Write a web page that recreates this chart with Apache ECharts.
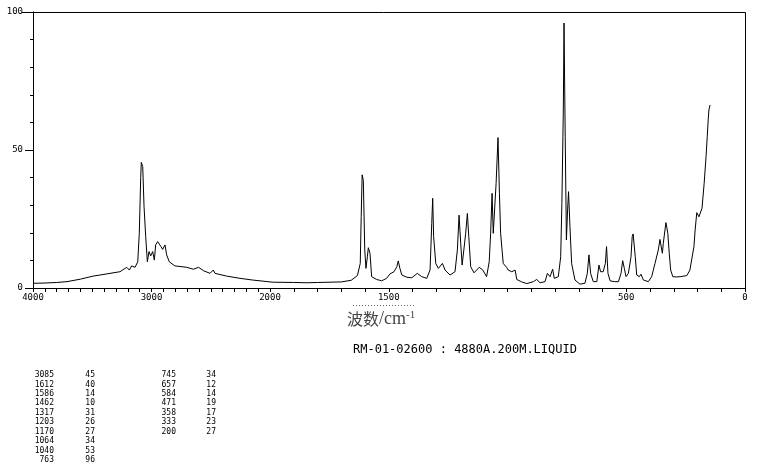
<!DOCTYPE html>
<html>
<head>
<meta charset="utf-8">
<script src="https://cdn.jsdelivr.net/npm/echarts@6/dist/echarts.min.js"></script>
<style>
html,body{margin:0;padding:0;background:#fff;}
#c{width:761px;height:468px;}
</style>
</head>
<body>
<div id="c"></div>
<script>
// Raman spectrum: wavenumber (cm-1) and relative intensity
const wavenumber = [
  4000, 3900, 3800, 3713, 3600, 3494, 3435, 3350, 3266, 3209, 3187, 3167, 3139, 3116, 3103,
  3091, 3086, 3074, 3063, 3049, 3035, 3021, 3007, 2990, 2976, 2965, 2948, 2934, 2920, 2906,
  2886, 2872, 2850, 2802, 2703, 2647, 2602, 2563, 2506, 2479, 2464, 2365, 2253, 2150, 2084,
  2000,
  1986, 1900, 1845, 1800, 1700, 1658, 1632, 1620, 1616, 1612, 1607, 1601, 1596, 1590, 1586,
  1579, 1572, 1551, 1530, 1509, 1495, 1478, 1466, 1460, 1453, 1445, 1424, 1403, 1380, 1361,
  1340, 1326, 1319, 1315, 1311, 1302, 1291, 1274, 1263, 1242, 1221, 1211, 1204, 1197, 1191,
  1183, 1176, 1169, 1163, 1155, 1141, 1119, 1104, 1088, 1077, 1071, 1065, 1060, 1056, 1048,
  1040, 1034, 1029, 1018, 1004, 997, 982, 976, 968, 961, 940, 919, 891, 884, 877, 863, 842,
  832, 821, 810, 803, 786, 776, 771, 765, 762, 757, 752, 747, 743, 737, 730, 716, 695, 674,
  664, 657, 650, 639, 624, 615, 608, 597, 588, 583, 577, 568, 550, 533, 522, 515, 508, 501,
  491, 480, 475, 471, 462, 456, 445, 438, 428, 407, 393, 379, 365, 358, 352, 348, 344, 337,
  333, 325, 319, 313, 304, 290, 273, 245, 232, 224, 215, 210, 203, 200, 194, 187, 181, 172,
  164, 159, 155, 152, 147
];
const intensity = [
  1.7, 1.8, 2.0, 2.3, 3.2, 4.3, 4.7, 5.3, 5.9, 7.5, 6.5, 8.0, 7.5, 9.5, 19.8,
  40, 45.5, 44, 29.5, 18.6, 9.5, 13.2, 11.6, 13.2, 10.1, 15.6, 16.8, 17.1, 15, 14,
  15.6, 12, 9.5, 8, 7.5, 6.8, 7.5, 6.3, 5.3, 6.5, 5.3, 4.3, 3.5, 2.9, 2.6,
  2.2,
  2.1, 2.0, 1.9, 2.0, 2.2, 2.8, 4.5, 8.9, 25.8, 41, 39, 13.8, 7.1, 11.3, 14.6,
  12.6, 4.1, 3.1, 2.6, 3.5, 5.1, 5.9, 7.7, 9.8, 7.1, 4.7, 3.9, 3.7, 5.3, 4.1,
  3.5, 6.5, 23.4, 32.5, 18.6, 8.9, 7.1, 8.9, 6.5, 4.7, 5.9, 13.8, 26.4, 16.2, 8.3,
  8.9, 19.8, 27, 18.6, 7.7, 5.5, 7.5, 6.5, 4.1, 9.5, 19.8, 34.3, 19.8, 20.4, 37.9,
  54.5, 34.3, 19.8, 8.9, 7.5, 6.5, 5.9, 5.3, 6.5, 3.1, 2.2, 1.6, 2.3, 2.9, 3.1, 1.9, 2.3,
  5.3, 4.1, 6.8, 3.5, 4.1, 11.3, 30.7, 64.5, 96, 54.8, 17.4, 28.3, 34.9, 22.2, 8.9, 2.9, 1.4, 1.7,
  5.3, 12, 5.3, 2.3, 2.3, 8.3, 5.9, 5.9, 8.9, 15, 5.3, 2.6, 2.3, 2.3, 5.3, 9.9, 7.1, 4.1,
  5.3, 11.3, 18.6, 19.6, 11.3, 4.7, 4.1, 5, 2.9, 2.3, 4.1, 8.9, 13.8, 17.6, 17.4, 12.6, 16.2, 21,
  23.7, 19.8, 12.6, 6.5, 4.1, 4.0, 4.1, 4.5, 6.5, 7.1, 15, 21, 27.3, 27.6, 25.8, 25.3, 28.9, 37.9,
  47.6, 54.8, 60.9, 64.5, 66.3
];

// tick labels shown on each part of the broken x axis
const xLabelsHigh = [4000, 3000];
const xLabelsLow = [2000, 1500, 500, 0];
const yLabels = [0, 50, 100];

// peak table
const peakWn = ['3085', '1612', '1586', '1462', '1317', '1203', '1170', '1064', '1040', '763',
                '745', '657', '584', '471', '358', '333', '200'];
const peakInt = ['45', '40', '14', '10', '31', '26', '27', '34', '53', '96',
                 '34', '12', '14', '19', '17', '23', '27'];

const titleText = 'RM-01-02600 : 4880A.200M.LIQUID';

const highData = [], lowData = [];
for (let i = 0; i < wavenumber.length; i++) {
  if (wavenumber[i] >= 2000) highData.push([wavenumber[i], intensity[i]]);
  if (wavenumber[i] <= 2000) lowData.push([wavenumber[i], intensity[i]]);
}

const MONO = 'DejaVu Sans Mono';
const axisCommon = {
  type: 'value',
  inverse: true,
  interval: 100,
  axisLine: { show: true, lineStyle: { color: '#000', width: 1 } },
  axisTick: { show: true, length: 4, lineStyle: { color: '#000', width: 1 } },
  splitLine: { show: false },
  minorTick: { show: false },
};

const graphics = [];
// frame (top and right edges)
graphics.push({ type: 'polyline', silent: true,
  shape: { points: [[22, 12.5], [745.5, 12.5], [745.5, 288.5]] },
  style: { stroke: '#000', lineWidth: 1, fill: null } });
// axis name
graphics.push({ type: 'text', x: 347, y: 319, silent: true,
  style: { text: '{a|波数}{b|/cm}{c|-1}', verticalAlign: 'middle', align: 'left',
    rich: {
      a: { fontFamily: 'Noto Sans CJK SC', fontSize: 16, fill: '#444' },
      b: { fontFamily: 'Liberation Serif', fontSize: 18, fill: '#444' },
      c: { fontFamily: 'Liberation Serif', fontSize: 11, fill: '#444', verticalAlign: 'top', padding: [0, 0, 8, 0] }
    } } });
// dotted artefact line above the axis name
graphics.push({ type: 'line', silent: true,
  shape: { x1: 353, y1: 305.5, x2: 415, y2: 305.5 },
  style: { stroke: '#666', lineWidth: 1, lineDash: [1, 2] } });
// title
graphics.push({ type: 'text', x: 353, y: 350, silent: true,
  style: { text: titleText, fontFamily: MONO, fontSize: 12, fill: '#000', verticalAlign: 'middle' } });
// peak table
const rowH = 9.47;
for (let i = 0; i < peakWn.length; i++) {
  const col = i < 10 ? 0 : 1;
  const row = i < 10 ? i : i - 10;
  const y = 375 + row * rowH;
  const xw = col === 0 ? 54 : 176;
  const xi = col === 0 ? 95 : 216;
  graphics.push({ type: 'text', x: xw, y: y, silent: true,
    style: { text: peakWn[i], fontFamily: MONO, fontSize: 8, fill: '#000', align: 'right', verticalAlign: 'middle' } });
  graphics.push({ type: 'text', x: xi, y: y, silent: true,
    style: { text: peakInt[i], fontFamily: MONO, fontSize: 8, fill: '#000', align: 'right', verticalAlign: 'middle' } });
}

const chart = echarts.init(document.getElementById('c'), null, { renderer: 'canvas' });
chart.setOption({
  animation: false,
  backgroundColor: '#fff',
  grid: [
    { left: 33, top: 12, width: 237, height: 276, containLabel: false },
    { left: 270, top: 12, width: 475, height: 276, containLabel: false }
  ],
  xAxis: [
    Object.assign({}, axisCommon, {
      gridIndex: 0, min: 2000, max: 4000,
      axisLabel: { fontFamily: MONO, fontSize: 9, color: '#000', margin: 5,
        formatter: v => xLabelsHigh.indexOf(v) >= 0 ? String(v) : '' }
    }),
    Object.assign({}, axisCommon, {
      gridIndex: 1, min: 0, max: 2000,
      axisLabel: { fontFamily: MONO, fontSize: 9, color: '#000', margin: 5,
        formatter: v => xLabelsLow.indexOf(v) >= 0 ? String(v) : '' }
    })
  ],
  yAxis: [
    { gridIndex: 0, type: 'value', min: 0, max: 100, interval: 50,
      axisLine: { show: true, lineStyle: { color: '#000', width: 1 } },
      axisTick: { show: true, length: 8, lineStyle: { color: '#000' } },
      minorTick: { show: true, splitNumber: 5, length: 3, lineStyle: { color: '#000' } },
      splitLine: { show: false },
      axisLabel: { fontFamily: MONO, fontSize: 9, color: '#000', margin: 10,
        formatter: v => yLabels.indexOf(v) >= 0 ? String(v) : '' } },
    { gridIndex: 1, type: 'value', min: 0, max: 100, show: false }
  ],
  series: [
    { type: 'line', xAxisIndex: 0, yAxisIndex: 0, data: highData, showSymbol: false,
      lineStyle: { color: '#000', width: 1 }, silent: true },
    { type: 'line', xAxisIndex: 1, yAxisIndex: 1, data: lowData, showSymbol: false,
      lineStyle: { color: '#000', width: 1 }, silent: true }
  ],
  graphic: graphics
});
</script>
</body>
</html>
